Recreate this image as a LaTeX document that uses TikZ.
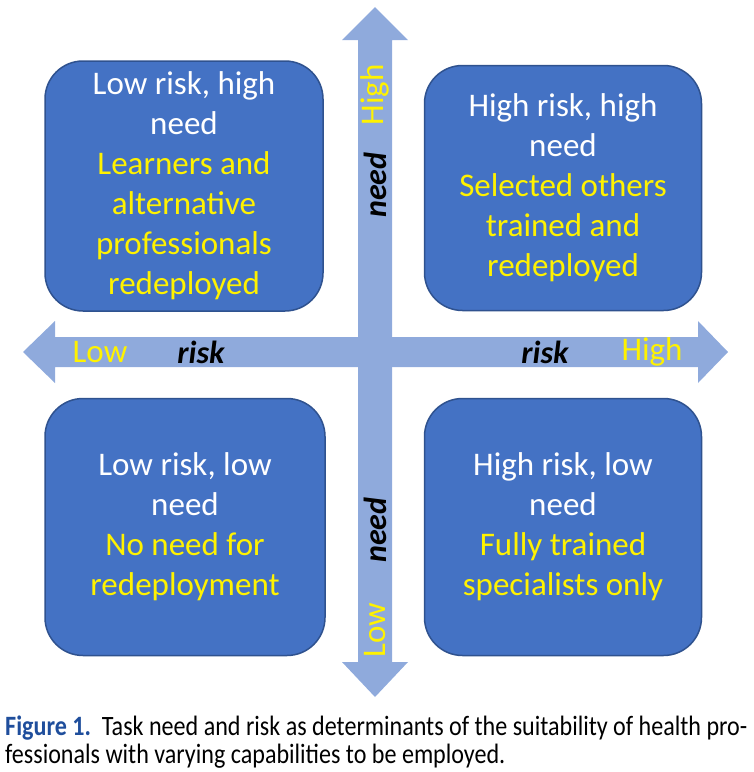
\documentclass[tikz,border=0pt]{standalone}
\usepackage{fontspec}
\setmainfont{Carlito}
\newfontfamily\capfont[FakeStretch=0.86]{Carlito}
\usetikzlibrary{positioning}
\definecolor{quadblue}{HTML}{4472C4}
\definecolor{quadedge}{HTML}{2F528F}
\definecolor{axisblue}{HTML}{8FAADC}
\definecolor{hiyellow}{HTML}{FFF200}
\definecolor{capblue}{HTML}{1F4E9C}
\tikzset{
  quad/.style={draw=quadedge,line width=1.5pt,fill=quadblue,rounded corners=38pt,minimum width=278pt,minimum height=250pt,align=center,text=white,inner sep=0pt,font=\fontsize{33}{40}\selectfont},
  axlbl/.style={text=hiyellow,inner sep=0pt,font=\fontsize{33}{36}\selectfont},
  axname/.style={inner sep=0pt,font=\fontsize{32}{36}\selectfont\bfseries\itshape},
  captxt/.style={anchor=north west,align=left,inner sep=0pt,font=\capfont\fontsize{28}{28}\selectfont},
}
\newcommand{\yl}[1]{\textcolor{hiyellow}{#1}}

\begin{document}
\begin{tikzpicture}[x=1pt,y=-1pt]
 \useasboundingbox (0,0) rectangle (754,772);
 % axes
 \fill[axisblue] (23,352) -- (55,321) -- (55,337) -- (698,337) -- (698,321) -- (728,352)
   -- (698,383) -- (698,367) -- (55,367) -- (55,383) -- cycle;
 \fill[axisblue] (375,7) -- (408,40) -- (392,40) -- (392,662) -- (408,662) -- (375,697)
   -- (342,662) -- (358,662) -- (358,40) -- (342,40) -- cycle;
 % quadrants
 \node[quad] (lh) at (184,186){Low risk, high\\need\\\yl{Learners and}\\\yl{alternative}\\\yl{professionals}\\\yl{redeployed}};
 \node[quad,minimum width=277pt,minimum height=245pt] (hh) at (563,188){High risk, high\\need\\\yl{Selected others}\\\yl{trained and}\\\yl{redeployed}};
 \node[quad,minimum width=280pt,minimum height=257pt] (ll) at (185,527){Low risk, low\\need\\\yl{No need for}\\\yl{redeployment}};
 \node[quad,minimum width=277pt,minimum height=257pt] (hl) at (563,527){High risk, low\\need\\\yl{Fully trained}\\\yl{specialists only}};
 % axis labels
 \node[axlbl] (rlow) at (100,352){Low};
 \node[axname] (rl) at (201,352){risk};
 \node[axname] (rr) at (545,352){risk};
 \node[axlbl] (rhigh) at (652,352){High};
 \node[axlbl,rotate=90] (nhigh) at (375,95){High};
 \node[axname,rotate=90] (nt) at (375,185){need};
 \node[axname,rotate=90] (nb) at (375,530){need};
 \node[axlbl,rotate=90] (nlow) at (375,630){Low};
 % caption
 \node[captxt] (caption) at (5,716){\textcolor{capblue}{\bfseries Figure 1.}\ \ Task need and risk as determinants of the suitability of health pro-\\fessionals with varying capabilities to be employed.};
\end{tikzpicture}
\end{document}
